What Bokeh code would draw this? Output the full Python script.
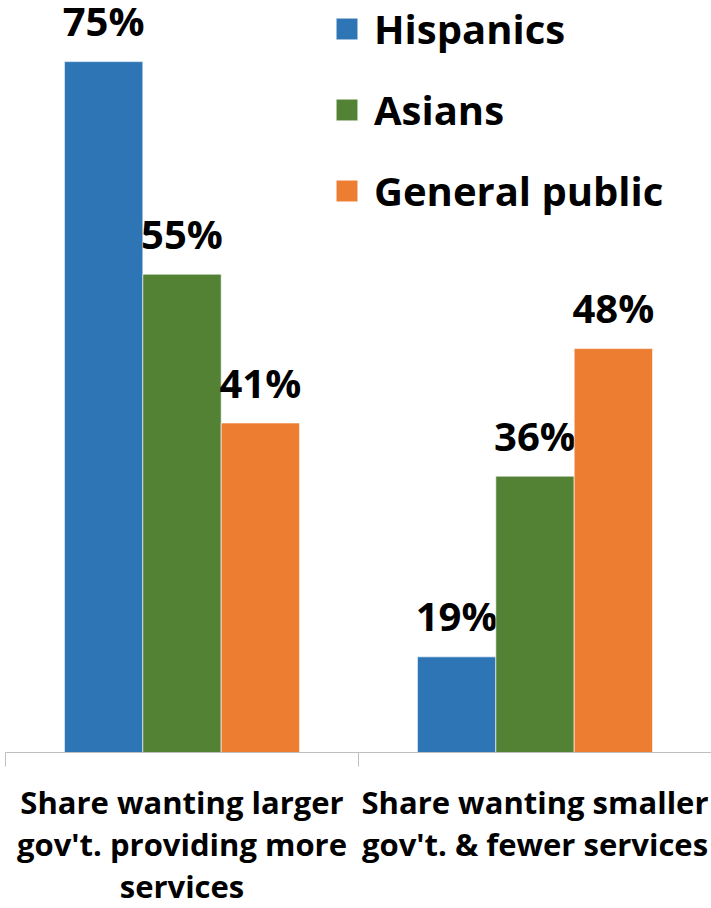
from bokeh.plotting import figure
from bokeh.models import Range1d, LinearAxis, FixedTicker, ColumnDataSource, Legend, LegendItem
from bokeh.core.properties import value
from bokeh.embed import file_html
from bokeh.resources import INLINE

categories = ["Share wanting larger\ngov't. providing more\nservices",
              "Share wanting smaller\ngov't. & fewer services"]
series = ["Hispanics", "Asians", "General public"]
hispanics = [75, 19]
asians = [55, 36]
general_public = [41, 48]
colors = ["#2E75B6", "#548235", "#ED7D31"]
y_min, y_max = 10, 80.75

values = [hispanics, asians, general_public]
FONT = "Open Sans"
bar_w = 0.222
offsets = [-bar_w, 0.0, bar_w]

p = figure(frame_width=706, frame_height=752, output_backend="svg", toolbar_location=None,
           x_range=Range1d(0, len(categories)), y_range=Range1d(y_min, y_max),
           x_axis_location=None, y_axis_location=None,
           min_border_left=5, min_border_right=0, min_border_top=0, min_border_bottom=156)
p.outline_line_color = None
p.xgrid.visible = False
p.ygrid.visible = False

renderers = []
for name, vals, col, off in zip(series, values, colors, offsets):
    xs = [i + 0.5 + off for i in range(len(categories))]
    src = ColumnDataSource(dict(x=xs, top=vals, label=[f"{v}%" for v in vals]))
    r = p.vbar(x="x", top="top", bottom=y_min, width=bar_w, source=src,
               fill_color=col, line_color="white", line_width=0.6)
    p.text(x="x", y="top", text="label", source=src, text_align="center",
           text_baseline="alphabetic", y_offset=-41, text_font=value(FONT),
           text_font_style="bold", text_font_size="40px", text_color="black")
    renderers.append((name, r))

xaxis = LinearAxis(ticker=FixedTicker(ticks=[i + 0.5 for i in range(len(categories))],
                                      minor_ticks=list(range(len(categories) + 1))))
xaxis.major_label_overrides = {i + 0.5: c for i, c in enumerate(categories)}
xaxis.major_tick_line_color = None
xaxis.major_tick_out = 0
xaxis.major_tick_in = 0
xaxis.minor_tick_out = 14
xaxis.minor_tick_in = 0
xaxis.minor_tick_line_color = "#bfbfbf"
xaxis.axis_line_color = "#bfbfbf"
xaxis.major_label_text_font = FONT
xaxis.major_label_text_font_style = "bold"
xaxis.major_label_text_font_size = "31px"
xaxis.major_label_text_color = "black"
xaxis.major_label_text_line_height = 1.0
xaxis.major_label_standoff = 14
p.add_layout(xaxis, "below")

legend = Legend(items=[LegendItem(label=n, renderers=[r]) for n, r in renderers],
                location=(328, 534), orientation="vertical")
legend.margin = 0
legend.padding = 0
legend.border_line_alpha = 0
legend.background_fill_alpha = 0
legend.glyph_width = 27
legend.glyph_height = 27
legend.label_height = 27
legend.label_standoff = 14
legend.spacing = 26
legend.label_text_font = FONT
legend.label_text_font_style = "bold"
legend.label_text_font_size = "40px"
legend.label_text_color = "black"
p.add_layout(legend, "center")

open("out.html", "w").write(file_html(p, INLINE))
